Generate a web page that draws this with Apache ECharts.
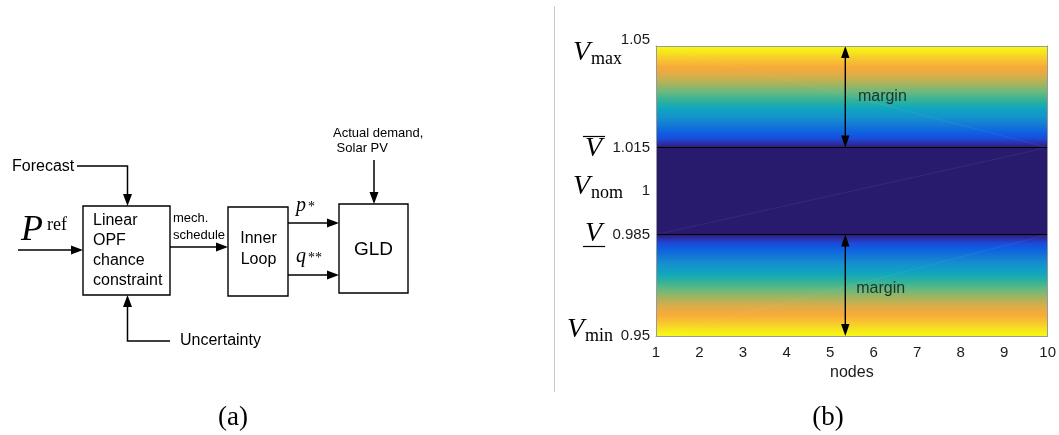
<!DOCTYPE html>
<html>
<head>
<meta charset="utf-8">
<script src="https://cdn.jsdelivr.net/npm/echarts@6/dist/echarts.min.js"></script>
<style>
  html, body { margin: 0; padding: 0; background: #ffffff; }
  #chart { width: 1059px; height: 435px; }
</style>
</head>
<body>
<div id="chart"></div>
<script>
// ---------- panel (b) data: voltage limits along the feeder ----------
const nodes = [1, 2, 3, 4, 5, 6, 7, 8, 9, 10];
const voltageTicks = [0.95, 0.985, 1, 1.015, 1.05];
const voltageTickLabels = ['0.95', '0.985', '1', '1.015', '1.05'];
const levelSubscripts = ['min', '', 'nom', '', 'max'];
const levelMarks = ['', 'under', '', 'over', ''];

// shaded bands: lower margin, safe band, upper margin
const bandLower = [0.95, 0.985, 1.015];
const bandUpper = [0.985, 1.015, 1.05];
const bandShading = ['towardLow', 'flat', 'towardHigh'];

// tightened limits and the margin arrows
const limitLines = [0.985, 1.015];
const marginArrowNode = 5.35;
const marginSpans = [[1.015, 1.05], [0.95, 0.985]];
const marginLabelPos = [[5.64, 1.0324], [5.60, 0.9662]];
const marginLabel = 'margin';

// ---------- panel (a) text ----------
const oplLines = ['Linear', 'OPF', 'chance', 'constraint'];
const innerLines = ['Inner', 'Loop'];
const disturbanceLines = ['Actual demand,', ' Solar PV'];
const scheduleLines = ['mech.', 'schedule'];
const captions = ['(a)', '(b)'];

// ---------- styling ----------
const SANS = '"Liberation Sans", Arial, Helvetica, sans-serif';
const SERIF = '"Liberation Serif", "Times New Roman", serif';
const AXIS_GRAY = '#9a9a9a';
const TEXT = '#1a1a1a';
const CORE_COLOR = '#281b6e';
// colour ramp by distance from the limit (0) to the hard bound (1)
const RAMP = [
  [0.00, '#2a1d78'], [0.04, '#2c2fa6'], [0.09, '#1a4cdc'], [0.15, '#0d62e0'],
  [0.22, '#1479d6'], [0.30, '#1593cc'], [0.38, '#0fa5c0'], [0.46, '#2fb29b'],
  [0.55, '#6db97c'], [0.63, '#aab35c'], [0.71, '#dcae48'], [0.79, '#f8a93a'],
  [0.87, '#f8c72d'], [0.94, '#f6e61d'], [1.00, '#f7fa10']
];

const chart = echarts.init(document.getElementById('chart'), null, { renderer: 'canvas' });

function rampStops(highAtTop) {
  const stops = RAMP.map(([d, c]) => ({ offset: highAtTop ? 1 - d : d, color: c }));
  return stops.sort((a, b) => a.offset - b.offset);
}

const option = {
  backgroundColor: '#ffffff',
  animation: false,
  grid: { left: 656, right: 11, top: 46, bottom: 99, containLabel: false },
  xAxis: [
    {
      type: 'value', min: 1, max: 10, interval: 1, position: 'bottom', z: 5,
      axisLine: { show: true, lineStyle: { color: AXIS_GRAY, width: 1 } },
      axisTick: { show: false },
      splitLine: { show: false },
      axisLabel: { fontFamily: SANS, fontSize: 15, color: TEXT, margin: 9 },
      name: 'nodes', nameLocation: 'middle', nameGap: 28,
      nameTextStyle: { fontFamily: SANS, fontSize: 16, color: TEXT }
    },
    {
      type: 'value', min: 1, max: 10, position: 'top', z: 5,
      axisLine: { show: true, lineStyle: { color: AXIS_GRAY, width: 1 } },
      axisTick: { show: false }, axisLabel: { show: false }, splitLine: { show: false }
    }
  ],
  yAxis: [
    {
      type: 'value', min: 0.95, max: 1.05, position: 'left', z: 5,
      axisLine: { show: true, lineStyle: { color: AXIS_GRAY, width: 1 } },
      axisTick: { show: false },
      splitLine: { show: false },
      axisLabel: {
        customValues: voltageTicks,
        fontFamily: SANS, fontSize: 15, color: TEXT, margin: 6,
        formatter: function (v) {
          const i = voltageTicks.findIndex(t => Math.abs(t - v) < 1e-9);
          const txt = i >= 0 ? voltageTickLabels[i] : '';
          return i === voltageTicks.length - 1 ? '{hi|' + txt + '}' : txt;
        },
        rich: { hi: { fontFamily: SANS, fontSize: 15, color: TEXT, padding: [0, 0, 12, 0] } }
      }
    },
    {
      type: 'value', min: 0.95, max: 1.05, position: 'right', z: 5,
      axisLine: { show: true, lineStyle: { color: AXIS_GRAY, width: 1 } },
      axisTick: { show: false }, axisLabel: { show: false }, splitLine: { show: false }
    }
  ],
  series: [
    {
      // colour bands across all nodes
      type: 'custom', name: 'bands', silent: true, z: 1,
      xAxisIndex: 0, yAxisIndex: 0,
      data: bandLower.map((lo, i) => [nodes[0], nodes[nodes.length - 1], lo, bandUpper[i], i]),
      encode: { x: [0, 1], y: [2, 3] },
      renderItem: function (params, api) {
        const x0 = api.value(0), x1 = api.value(1), y0 = api.value(2), y1 = api.value(3);
        const kind = bandShading[api.value(4)];
        const tl = api.coord([x0, y1]);
        const br = api.coord([x1, y0]);
        const shape = { x: tl[0], y: tl[1], width: br[0] - tl[0], height: br[1] - tl[1] };
        let fill = CORE_COLOR;
        if (kind !== 'flat') {
          fill = new echarts.graphic.LinearGradient(0, 0, 0, 1, rampStops(kind === 'towardHigh'));
        }
        // faint diagonal seam of the shaded patch
        const seam = kind === 'towardHigh'
          ? { x1: tl[0], y1: tl[1], x2: br[0], y2: br[1] }
          : { x1: tl[0], y1: br[1], x2: br[0], y2: tl[1] };
        return {
          type: 'group',
          children: [
            { type: 'rect', shape: shape, style: { fill: fill } },
            { type: 'line', shape: seam, style: { stroke: 'rgba(255,255,255,0.08)', lineWidth: 0.8 } }
          ]
        };
      }
    },
    {
      // tightened voltage limits
      type: 'custom', name: 'limits', silent: true, z: 2,
      xAxisIndex: 0, yAxisIndex: 0,
      data: limitLines.map(v => [nodes[0], nodes[nodes.length - 1], v]),
      encode: { x: [0, 1], y: 2 },
      renderItem: function (params, api) {
        const a = api.coord([api.value(0), api.value(2)]);
        const b = api.coord([api.value(1), api.value(2)]);
        return {
          type: 'line',
          shape: { x1: a[0], y1: a[1], x2: b[0], y2: b[1] },
          style: { stroke: '#000000', lineWidth: 1 }
        };
      }
    },
    {
      // double-headed margin arrows
      type: 'custom', name: 'margins', silent: true, z: 3,
      xAxisIndex: 0, yAxisIndex: 0,
      data: marginSpans.map(s => [marginArrowNode, s[0], s[1]]),
      encode: { x: 0, y: [1, 2] },
      renderItem: function (params, api) {
        const x = api.value(0);
        const pLo = api.coord([x, api.value(1)]);
        const pHi = api.coord([x, api.value(2)]);
        const cx = pLo[0], top = pHi[1], bot = pLo[1];
        const L = 12, W = 4.2;
        return {
          type: 'group',
          children: [
            { type: 'line', shape: { x1: cx, y1: top + L - 1, x2: cx, y2: bot - L + 1 },
              style: { stroke: '#000', lineWidth: 1.4 } },
            { type: 'polygon', shape: { points: [[cx, top], [cx - W, top + L], [cx + W, top + L]] },
              style: { fill: '#000' } },
            { type: 'polygon', shape: { points: [[cx, bot], [cx - W, bot - L], [cx + W, bot - L]] },
              style: { fill: '#000' } }
          ]
        };
      }
    },
    {
      type: 'scatter', name: 'marginText', silent: true, z: 4,
      xAxisIndex: 0, yAxisIndex: 0,
      symbolSize: 0,
      data: marginLabelPos,
      label: {
        show: true, position: 'right', distance: 0,
        formatter: marginLabel,
        fontFamily: SANS, fontSize: 16, color: '#111111'
      }
    }
  ]
};

chart.setOption(option);

// ---------- measured text widths ----------
const measureCtx = document.createElement('canvas').getContext('2d');
function textWidth(text, font) {
  measureCtx.font = font;
  return measureCtx.measureText(text).width;
}

const graphics = [];

function txt(x, y, text, size, opts) {
  opts = opts || {};
  graphics.push({
    type: 'text', x: x, y: y, z: 10, silent: true,
    style: {
      text: text,
      fontSize: size,
      fontFamily: opts.family || SANS,
      fontStyle: opts.italic ? 'italic' : 'normal',
      fill: opts.color || '#000',
      align: opts.align || 'left',
      verticalAlign: 'middle',
      textAlign: opts.align || 'left',
      textVerticalAlign: 'middle'
    }
  });
}
function poly(points, width) {
  graphics.push({
    type: 'polyline', z: 9, silent: true,
    shape: { points: points },
    style: { stroke: '#000', lineWidth: width || 1.5, fill: null }
  });
}
function head(x, y, dir) {
  const L = 12, W = 4.5;
  let pts;
  if (dir === 'right') pts = [[x, y], [x - L, y - W], [x - L, y + W]];
  else if (dir === 'down') pts = [[x, y], [x - W, y - L], [x + W, y - L]];
  else pts = [[x, y], [x - W, y + L], [x + W, y + L]];
  graphics.push({ type: 'polygon', z: 9, silent: true, shape: { points: pts }, style: { fill: '#000' } });
}
function box(x, y, w, h) {
  graphics.push({
    type: 'rect', z: 8, silent: true,
    shape: { x: x, y: y, width: w, height: h },
    style: { fill: '#fff', stroke: '#000', lineWidth: 1.4 }
  });
}

// ---------- panel (a): control block diagram ----------
box(83, 206, 87, 89);
box(228, 207, 60, 89);
box(339, 204, 69, 89);

oplLines.forEach((s, i) => txt(93, 220.5 + i * 20, s, 16));
innerLines.forEach((s, i) => txt(258.5, 239 + i * 21, s, 16, { align: 'center' }));
txt(373.5, 249.5, 'GLD', 19, { align: 'center' });

// reference input
poly([[18, 250], [76, 250]]);
head(83, 250, 'right');
txt(21, 231, 'P', 36, { family: SERIF, italic: true });
txt(47, 225, 'ref', 18, { family: SERIF });

// forecast feed
txt(12, 166.5, 'Forecast', 16);
poly([[77, 166], [127.5, 166], [127.5, 198]]);
head(127.5, 206, 'down');

// uncertainty feed
txt(180, 341, 'Uncertainty', 16);
poly([[170, 341], [127.5, 341], [127.5, 303]]);
head(127.5, 295, 'up');

// schedule to inner loop
scheduleLines.forEach((s, i) => txt(173, 218 + i * 17, s, 13));
poly([[170, 247], [221, 247]]);
head(228, 247, 'right');

// p* and q** set-points
poly([[288, 223], [332, 223]]);
head(339, 223, 'right');
poly([[288, 275], [332, 275]]);
head(339, 275, 'right');
txt(296, 206, 'p', 20, { family: SERIF, italic: true });
txt(308, 207, '*', 14, { family: SERIF });
txt(296, 257, 'q', 20, { family: SERIF, italic: true });
txt(308, 258.5, '**', 14, { family: SERIF });

// demand and PV disturbance
disturbanceLines.forEach((s, i) => txt(333, 133 + i * 15.5, s, 13));
poly([[374, 160], [374, 197]]);
head(374, 204, 'down');

// separator between panels
graphics.push({
  type: 'line', z: 1, silent: true,
  shape: { x1: 554.5, y1: 6, x2: 554.5, y2: 392 },
  style: { stroke: '#c9c9c9', lineWidth: 1 }
});

// captions
txt(233, 418, captions[0], 27, { family: SERIF, align: 'center' });
txt(828, 418, captions[1], 27, { family: SERIF, align: 'center' });

// ---------- panel (b): voltage level symbols beside the y ticks ----------
// left edge of each V and its vertical nudge from the tick
const symbolLeft = [567, 585, 573, 585, 573];
const symbolNudge = [-6, -1, -4, 1, 7];
const V_SIZE = 28, SUB_SIZE = 18;
const vWidth = textWidth('V', 'italic ' + V_SIZE + 'px ' + SERIF);

voltageTicks.forEach((v, i) => {
  const yPix = chart.convertToPixel({ yAxisIndex: 0 }, v);
  const yc = yPix + symbolNudge[i];
  const left = symbolLeft[i];
  txt(left, yc, 'V', V_SIZE, { family: SERIF, italic: true });
  if (levelSubscripts[i]) {
    txt(left + vWidth + 1, yc + 6, levelSubscripts[i], SUB_SIZE, { family: SERIF });
  }
  if (levelMarks[i]) {
    const ly = levelMarks[i] === 'over' ? yc - 12 : yc + 13;
    graphics.push({
      type: 'line', z: 10, silent: true,
      shape: { x1: left - 2, y1: ly, x2: left + vWidth + 3, y2: ly },
      style: { stroke: '#000', lineWidth: 1.2 }
    });
  }
});

chart.setOption({ graphic: { elements: graphics } });
</script>
</body>
</html>
